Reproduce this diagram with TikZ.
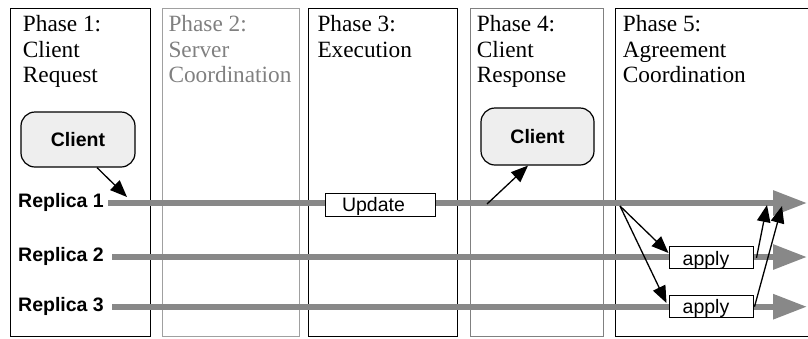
\documentclass[tikz,border=0pt]{standalone}
\usepackage{fontspec}
\setmainfont{Liberation Serif}
\setsansfont{Liberation Sans}
\usetikzlibrary{arrows.meta}
\definecolor{lanegray}{HTML}{888888}
\definecolor{boxgray}{HTML}{EEEEEE}
\definecolor{phgray}{HTML}{A0A0A0}
\definecolor{phgrayb}{HTML}{808080}
\definecolor{txtgray}{HTML}{808080}
\begin{document}
\begin{tikzpicture}[x=1pt,y=-1pt,
  phasebox/.style={draw=black, line width=1pt, inner sep=0pt, minimum height=328pt},
  phtext/.style={anchor=north west, inner sep=0pt, align=left, font=\fontsize{23.3}{25.7}\selectfont},
  replabel/.style={anchor=base west, inner sep=0pt, font=\sffamily\bfseries\fontsize{19.5}{22}\selectfont},
  lane/.style={draw=lanegray, line width=6pt, -{Triangle[length=34pt,width=24pt]}},
  clientbox/.style={draw=black, fill=boxgray, rounded corners=14pt, line width=1.2pt, inner sep=0pt, font=\sffamily\bfseries\fontsize{19.5}{22}\selectfont},
  opbox/.style={draw=black, fill=white, line width=1pt, inner ysep=0pt, align=left, font=\sffamily\fontsize{19.5}{22}\selectfont},
  msg/.style={draw=black, line width=1.3pt, -{Triangle[length=17pt,width=13.5pt]}}
]
\useasboundingbox (0,0) rectangle (808,338);
\clip (0,0) rectangle (808,338);

% phase columns
\node[phasebox, minimum width=140pt] (p1) at (80,172) {};
\node[phasebox, draw=phgray, minimum width=137pt] (p2) at (230.5,172) {};
\node[phasebox, minimum width=149pt] (p3) at (382.5,172) {};
\node[phasebox, draw=phgrayb, minimum width=133pt] (p4) at (536.5,172) {};
\node[phasebox, minimum width=220pt] (p5) at (725,172) {};

\node[phtext] (t1) at (22.7,15) {Phase 1:\\Client\\Request};
\node[phtext, text=txtgray] (t2) at (168.3,15) {Phase 2:\\Server\\Coordination};
\node[phtext] (t3) at (317.3,15) {Phase 3:\\Execution};
\node[phtext] (t4) at (476.7,15) {Phase 4:\\Client\\Response};
\node[phtext] (t5) at (622.7,15) {Phase 5:\\Agreement\\Coordination};

% replicas
\node[replabel] (l1) at (18,207.3) {Replica 1};
\node[replabel] (l2) at (18,261.5) {Replica 2};
\node[replabel] (l3) at (18,311.5) {Replica 3};

\coordinate (r1s) at (108,203);   \coordinate (r1e) at (807,203);
\coordinate (r2s) at (112,257);   \coordinate (r2e) at (807,257);
\coordinate (r3s) at (112,306.7); \coordinate (r3e) at (807,306.7);
\draw[lane] (r1s) -- (r1e);
\draw[lane] (r2s) -- (r2e);
\draw[lane] (r3s) -- (r3e);

% clients
\node[clientbox, minimum width=114pt, minimum height=55pt] (c1) at (78,139.5) {Client};
\node[clientbox, minimum width=113pt, minimum height=57pt] (c2) at (537.5,136.5) {Client};

% operation boxes
\node[opbox, text width=76pt, inner xsep=17pt, text height=16.4pt, text depth=2pt, minimum height=23pt] (upd) at (380,204.5) {Update};
\node[opbox, text width=56.6pt, inner xsep=13.7pt, text height=18.5pt, text depth=3.5pt, minimum height=22.3pt] (a1) at (711,257.8) {apply};
\node[opbox, text width=56.6pt, inner xsep=13.7pt, text height=18pt, text depth=4pt, minimum height=22pt] (a2) at (711,306.7) {apply};

% messages
\coordinate (m1) at (127,197);
\draw[msg] ([xshift=19pt]c1.south) -- (m1);
\coordinate (m2) at (487,204);
\draw[msg] (m2) -- ([xshift=-9.5pt]c2.south);
\coordinate (fork) at (620,206);
\draw[msg] (fork) -- ([yshift=4.8pt]a1.west);
\draw[msg] (fork) -- ([xshift=-2pt,yshift=3.7pt]a2.west);
\coordinate (j1) at (767,205);
\coordinate (j2) at (782,206);
\draw[msg] ([xshift=3pt]a1.east) -- (j1);
\draw[msg] ([xshift=1pt]a2.east) -- (j2);
\end{tikzpicture}
\end{document}
